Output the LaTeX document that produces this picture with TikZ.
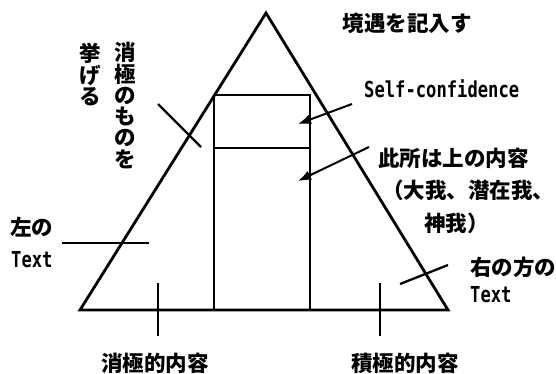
\documentclass[tikz,border=0pt]{standalone}
\usepackage{fontspec}
\usetikzlibrary{arrows.meta}
\newfontfamily\jp{Noto Sans CJK JP}
\newfontfamily\latf[FakeStretch=0.78]{DejaVu Sans Mono}
\begin{document}
\begin{tikzpicture}[x=1pt,y=-1pt,
  outline/.style={line width=2.8pt, line join=miter},
  tickline/.style={line width=2.3pt},
  jtext/.style={font=\jp\bfseries\fontsize{21.5}{21.3}\selectfont, inner sep=0pt},
  ltext/.style={font=\latf\bfseries\fontsize{22}{24}\selectfont, inner sep=0pt},
  ptr/.style={line width=2pt, -{Latex[length=13pt,width=10pt]}}]
\useasboundingbox (0,0) rectangle (556,373);
% triangle
\coordinate (apex) at (266,13);
\coordinate (bl) at (80,310);
\coordinate (br) at (448,310);
\draw[outline] (apex) -- (bl) -- (br) -- cycle;
% inner box
\coordinate (r1) at (214,95);
\coordinate (r2) at (310,95);
\coordinate (r3) at (214,148);
\coordinate (r4) at (310,148);
\coordinate (r5) at (214,310);
\coordinate (r6) at (310,310);
\draw[outline] (r5) -- (r1) -- (r2) -- (r6);
\draw[outline] (r3) -- (r4);
% cross marks
\coordinate (c1a) at (158,104); \coordinate (c1b) at (201,147);
\draw[tickline] (c1a) -- (c1b);
\coordinate (c2a) at (62,243); \coordinate (c2b) at (149,243);
\draw[tickline] (c2a) -- (c2b);
\coordinate (c3a) at (158,283); \coordinate (c3b) at (158,336);
\draw[tickline] (c3a) -- (c3b);
\coordinate (c4a) at (380,283); \coordinate (c4b) at (380,336);
\draw[tickline] (c4a) -- (c4b);
\coordinate (c5a) at (400,284); \coordinate (c5b) at (448,265);
\draw[tickline] (c5a) -- (c5b);
% arrows
\coordinate (a1s) at (352,104); \coordinate (a1e) at (298,124);
\draw[ptr] (a1s) -- (a1e);
\coordinate (a2s) at (369,147); \coordinate (a2e) at (298,181);
\draw[ptr] (a2s) -- (a2e);
% texts
\node[jtext] (top) at (407,23) {境遇を記入す};
\node[ltext, anchor=base west] (sc) at (364,97) {Self-confidence};
\node[jtext, anchor=west] (here) at (378,158) {此所は上の内容};
\node[jtext, anchor=west] (paren1) at (382,190) {（大我、潜在我、};
\node[jtext, anchor=west] (paren2) at (424,223) {神我）};
\node[jtext, anchor=west] (right1) at (470,267) {右の方の};
\node[ltext, anchor=base west] (right2) at (470,302) {Text};
\node[jtext, anchor=west] (left1) at (10,227) {左の};
\node[ltext, anchor=base west] (left2) at (11,267) {Text};
\node[jtext] (neg) at (155,363) {消極的内容};
\node[jtext] (pos) at (405,363) {積極的内容};
\node[jtext, align=center] (col1) at (125,105.5) {消\\極\\の\\も\\の\\を};
\node[jtext, align=center] (col2) at (90,74.5) {挙\\げ\\る};
\end{tikzpicture}
\end{document}
